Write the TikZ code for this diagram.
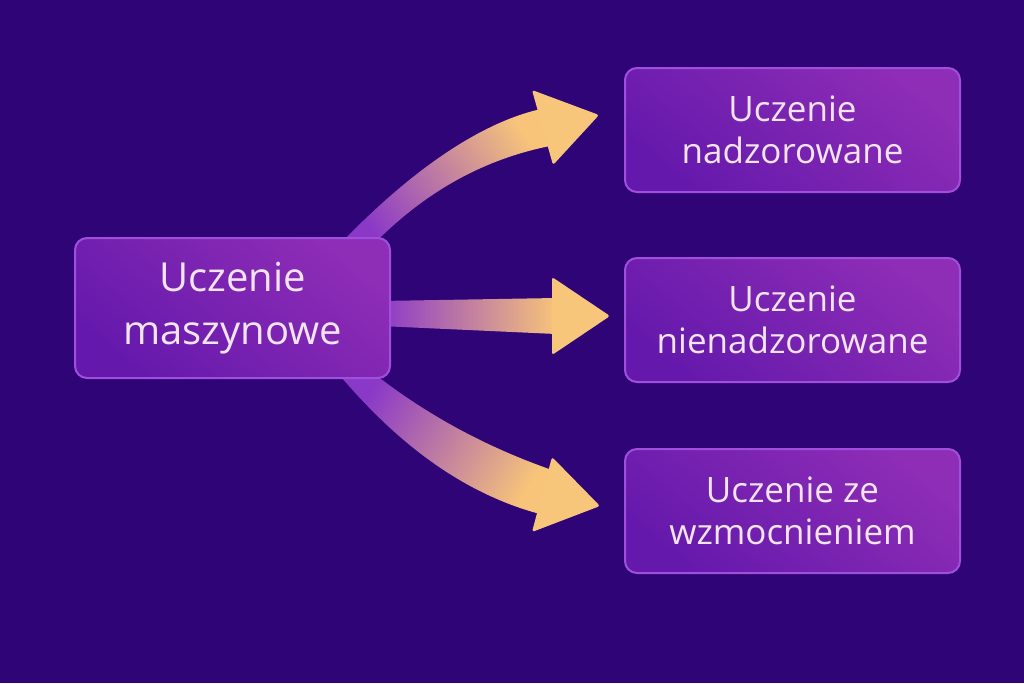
\documentclass[tikz,border=0pt]{standalone}
\usepackage{fontspec}
\setmainfont{Open Sans}
\definecolor{bg}{HTML}{2E0477}
\definecolor{boxA}{HTML}{8E2DB6}
\definecolor{boxB}{HTML}{6519AC}
\definecolor{boxline}{HTML}{A04FDC}
\definecolor{txt}{HTML}{F2E4EE}
\definecolor{shA}{HTML}{8A38C8}
\definecolor{shB}{HTML}{C97C9C}
\definecolor{shC}{HTML}{F7C47A}
\definecolor{headc}{HTML}{F8C67B}
\tikzset{
  box/.style={draw=boxline, line width=2pt, rounded corners=12pt,
    top color=boxA, bottom color=boxB, shading angle=-40,
    align=center, text=txt, inner sep=0pt},
  mainbox/.style={box, minimum width=315pt, minimum height=140pt,
    font=\fontsize{40}{53}\selectfont},
  sidebox/.style={box, minimum width=335pt, minimum height=124pt,
    font=\fontsize{35}{42}\selectfont},
  shaft/.style={left color=shA, middle color=shB, right color=shC},
  head/.style={fill=headc, rounded corners=2.5pt}
}
\begin{document}
\begin{tikzpicture}[x=1pt,y=-1pt]
\fill[bg] (0,0) rectangle (1024,683);
\useasboundingbox (0,0) rectangle (1024,683);

% arrows
\shade[shaft, shading angle=125]
  (342,242) .. controls (397,185) and (470,125) .. (541,109)
  -- (550,146) .. controls (480,160) and (420,195) .. (368,250) -- cycle;
\fill[head] (532,90) -- (599,115) -- (553,165) -- cycle;

\shade[shaft, shading angle=90]
  (380,301) -- (556,298) -- (556,334) -- (380,326) -- cycle;
\fill[head] (552,277) -- (610,316) -- (552,355) -- cycle;

\shade[shaft, shading angle=60]
  (372,372) .. controls (420,410) and (480,445) .. (552,470)
  -- (540,514) .. controls (450,490) and (385,428) .. (342,378) -- cycle;
\fill[head] (552,457) -- (600,506) -- (532,532) -- cycle;

% boxes
\node[mainbox] (ml) at (232.5,308) {Uczenie\\maszynowe};
\node[sidebox] (sup) at (792.5,130) {Uczenie\\nadzorowane};
\node[sidebox] (uns) at (792.5,320) {Uczenie\\nienadzorowane};
\node[sidebox] (rl) at (792.5,511) {Uczenie ze\\wzmocnieniem};
\end{tikzpicture}
\end{document}
